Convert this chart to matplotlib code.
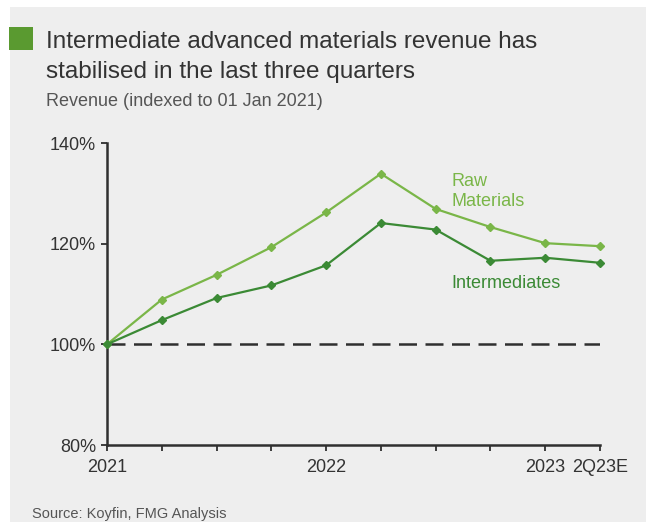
import matplotlib.pyplot as plt
from matplotlib.patches import Rectangle

quarters = list(range(10))
tick_labels = {0: "2021", 4: "2022", 8: "2023", 9: "2Q23E"}
raw_materials = [100.0, 108.9, 113.8, 119.3, 126.2, 133.9, 126.9, 123.3, 120.1, 119.5]
intermediates = [100.0, 104.8, 109.2, 111.7, 115.7, 124.1, 122.8, 116.6, 117.2, 116.2]

BG = "#eeeeee"
LIGHT = "#7ab648"
DARK = "#3b8a35"
AXIS = "#2f2f2f"

plt.rcParams["font.family"] = ["Liberation Sans", "DejaVu Sans"]

W, H = 646, 522
fig = plt.figure(figsize=(W / 100, H / 100), dpi=100, facecolor="white")
fig.patches.append(Rectangle((10 / W, 0), 1, 1 - 7 / H, transform=fig.transFigure,
                             facecolor=BG, edgecolor="none", zorder=-10))
fig.patches.append(Rectangle((9 / W, 1 - 50 / H), 24 / W, 23 / H, transform=fig.transFigure,
                             facecolor="#5a9a30", edgecolor="none", zorder=-5))

fig.text(46 / W, 1 - 42 / H, "Intermediate advanced materials revenue has",
         fontsize=17.5, color="#333333", va="center")
fig.text(46 / W, 1 - 72 / H, "stabilised in the last three quarters",
         fontsize=17.5, color="#333333", va="center")
fig.text(46 / W, 1 - 102 / H, "Revenue (indexed to 01 Jan 2021)",
         fontsize=13, color="#555555", va="center")
fig.text(32 / W, 1 - 514 / H, "Source: Koyfin, FMG Analysis",
         fontsize=10.5, color="#555555", va="center")

ax = fig.add_axes([107 / W, 1 - 445 / H, (600 - 107) / W, (445 - 143) / H])
ax.set_facecolor("none")
ax.set_xlim(0, 9)
ax.set_ylim(80, 140)

ax.axhline(100, color=AXIS, lw=1.8, dashes=(7.2, 3.4), zorder=1)
ax.plot(quarters, raw_materials, color=LIGHT, lw=1.6, marker="D", ms=4.5, zorder=3, clip_on=False)
ax.plot(quarters, intermediates, color=DARK, lw=1.6, marker="D", ms=4.5, zorder=3, clip_on=False)

ax.text(6.28, 134, "Raw\nMaterials", color=LIGHT, fontsize=13, va="top", ha="left", linespacing=1.25)
ax.text(6.28, 112, "Intermediates", color=DARK, fontsize=13, va="center", ha="left")

for side in ("top", "right"):
    ax.spines[side].set_visible(False)
for side in ("left", "bottom"):
    ax.spines[side].set_color(AXIS)
    ax.spines[side].set_linewidth(1.8)

ax.set_yticks([80, 100, 120, 140])
ax.set_yticklabels(["80%", "100%", "120%", "140%"])
ax.set_xticks(quarters)
ax.set_xticklabels([tick_labels.get(q, "") for q in quarters])
ax.tick_params(axis="both", colors=AXIS, labelcolor="#333333", labelsize=13,
               length=4, width=1.3, direction="out")
ax.tick_params(axis="x", pad=6)
ax.tick_params(axis="y", pad=4)

fig.savefig("out.png", dpi=100, facecolor="white")
